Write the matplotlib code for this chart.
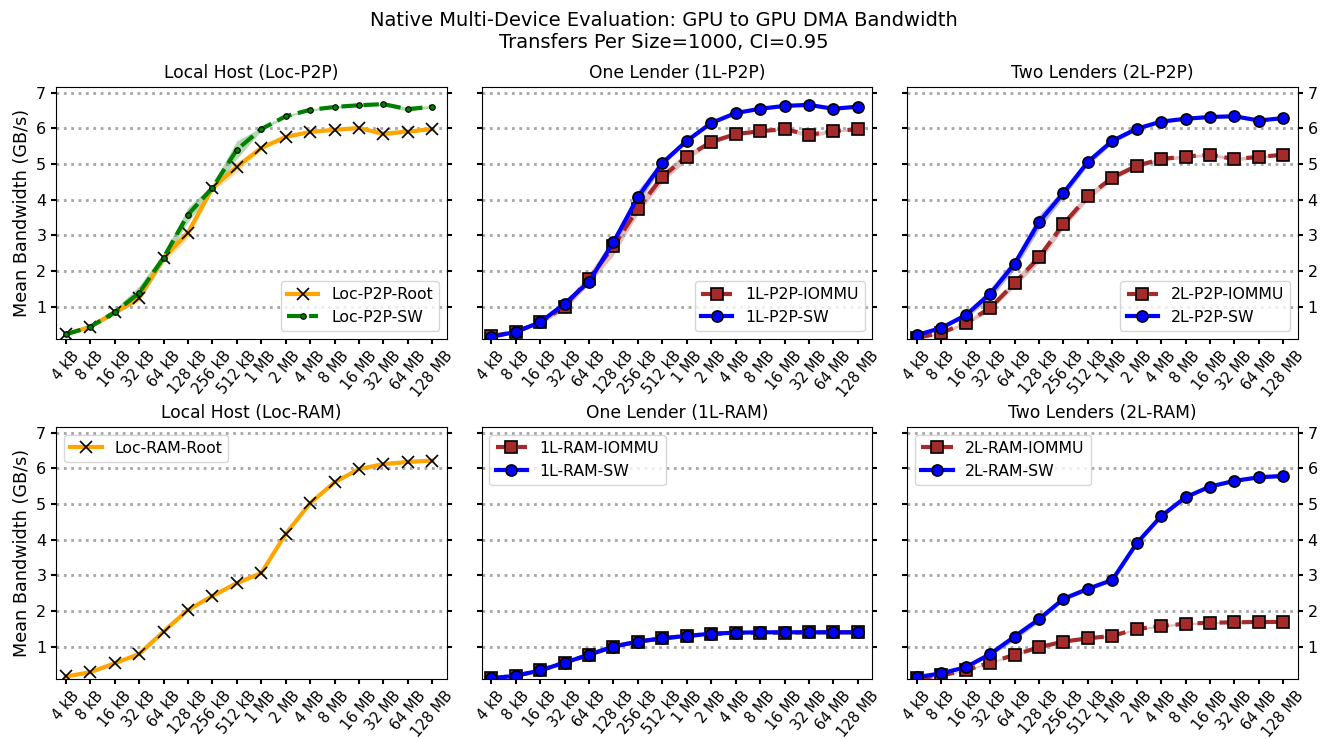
import matplotlib.pyplot as plt
import numpy as np

sizes = ['4 kB', '8 kB', '16 kB', '32 kB', '64 kB', '128 kB', '256 kB', '512 kB',
         '1 MB', '2 MB', '4 MB', '8 MB', '16 MB', '32 MB', '64 MB', '128 MB']

# mean bandwidth (GB/s) and CI half widths per transfer size
loc_p2p_root = [0.22, 0.43, 0.84, 1.24, 2.37, 3.07, 4.33, 4.92, 5.45, 5.76, 5.90, 5.96, 6.01, 5.85, 5.91, 5.98]
loc_p2p_root_ci = [0.02, 0.02, 0.05, 0.10, 0.15, 0.15, 0.10, 0.15, 0.05, 0.03, 0.03, 0.03, 0.03, 0.08, 0.03, 0.03]
loc_p2p_sw = [0.22, 0.43, 0.84, 1.38, 2.37, 3.58, 4.33, 5.40, 5.98, 6.34, 6.52, 6.60, 6.65, 6.68, 6.54, 6.61]
loc_p2p_sw_ci = [0.02, 0.03, 0.08, 0.20, 0.12, 0.20, 0.10, 0.25, 0.05, 0.03, 0.03, 0.03, 0.03, 0.03, 0.06, 0.03]

l1_p2p_iommu = [0.17, 0.29, 0.56, 1.00, 1.78, 2.69, 3.75, 4.64, 5.21, 5.62, 5.84, 5.92, 5.98, 5.82, 5.92, 5.98]
l1_p2p_iommu_ci = [0.02, 0.03, 0.05, 0.10, 0.15, 0.25, 0.15, 0.15, 0.10, 0.05, 0.05, 0.03, 0.03, 0.08, 0.03, 0.03]
l1_p2p_sw = [0.15, 0.29, 0.56, 1.08, 1.70, 2.81, 4.07, 5.03, 5.65, 6.15, 6.43, 6.55, 6.63, 6.66, 6.55, 6.61]
l1_p2p_sw_ci = [0.02, 0.02, 0.03, 0.05, 0.05, 0.10, 0.20, 0.08, 0.05, 0.03, 0.03, 0.03, 0.03, 0.03, 0.03, 0.03]

l2_p2p_iommu = [0.12, 0.26, 0.54, 0.96, 1.66, 2.38, 3.32, 4.09, 4.62, 4.95, 5.14, 5.21, 5.26, 5.14, 5.20, 5.26]
l2_p2p_iommu_ci = [0.02, 0.03, 0.05, 0.08, 0.10, 0.15, 0.12, 0.10, 0.08, 0.05, 0.05, 0.05, 0.03, 0.06, 0.03, 0.03]
l2_p2p_sw = [0.20, 0.40, 0.76, 1.36, 2.20, 3.37, 4.19, 5.06, 5.65, 5.99, 6.19, 6.27, 6.32, 6.34, 6.22, 6.29]
l2_p2p_sw_ci = [0.02, 0.03, 0.08, 0.15, 0.15, 0.20, 0.12, 0.10, 0.07, 0.05, 0.03, 0.03, 0.03, 0.03, 0.03, 0.03]

loc_ram_root = [0.16, 0.28, 0.53, 0.79, 1.42, 2.03, 2.42, 2.78, 3.06, 4.16, 5.02, 5.61, 5.98, 6.12, 6.18, 6.22]
loc_ram_root_ci = [0.02, 0.02, 0.03, 0.05, 0.05, 0.05, 0.05, 0.05, 0.03, 0.03, 0.03, 0.03, 0.03, 0.03, 0.03, 0.05]

l1_ram_iommu = [0.11, 0.18, 0.33, 0.55, 0.77, 1.00, 1.14, 1.23, 1.30, 1.35, 1.38, 1.39, 1.39, 1.40, 1.40, 1.40]
l1_ram_iommu_ci = [0.01] * 16
l1_ram_sw = [0.11, 0.18, 0.33, 0.55, 0.77, 1.00, 1.14, 1.23, 1.30, 1.36, 1.39, 1.40, 1.40, 1.40, 1.40, 1.40]
l1_ram_sw_ci = [0.01] * 16

l2_ram_iommu = [0.11, 0.19, 0.33, 0.55, 0.77, 0.98, 1.14, 1.23, 1.30, 1.49, 1.58, 1.64, 1.67, 1.68, 1.69, 1.69]
l2_ram_iommu_ci = [0.01, 0.01, 0.02, 0.02, 0.03, 0.03, 0.03, 0.03, 0.03, 0.03, 0.03, 0.03, 0.03, 0.03, 0.03, 0.03]
l2_ram_sw = [0.14, 0.25, 0.42, 0.79, 1.28, 1.77, 2.34, 2.62, 2.87, 3.90, 4.66, 5.19, 5.49, 5.65, 5.75, 5.79]
l2_ram_sw_ci = [0.02, 0.02, 0.03, 0.05, 0.10, 0.08, 0.06, 0.05, 0.04, 0.03, 0.03, 0.03, 0.03, 0.03, 0.04, 0.05]

styles = {
    'root': dict(color='orange', ls='-', marker='x', ms=8, mec='black', mew=1.2, lw=3),
    'sw_green': dict(color='green', ls='--', marker='o', ms=4, mec='black', mew=0.8, lw=3),
    'iommu': dict(color='brown', ls='--', marker='s', ms=8, mec='black', mew=1.2, lw=3),
    'sw': dict(color='blue', ls='-', marker='o', ms=8, mec='black', mew=1.2, lw=3),
}

panels = [
    ('Local Host (Loc-P2P)', [('Loc-P2P-Root', loc_p2p_root, loc_p2p_root_ci, 'root'),
                              ('Loc-P2P-SW', loc_p2p_sw, loc_p2p_sw_ci, 'sw_green')], 'lower right'),
    ('One Lender (1L-P2P)', [('1L-P2P-IOMMU', l1_p2p_iommu, l1_p2p_iommu_ci, 'iommu'),
                             ('1L-P2P-SW', l1_p2p_sw, l1_p2p_sw_ci, 'sw')], 'lower right'),
    ('Two Lenders (2L-P2P)', [('2L-P2P-IOMMU', l2_p2p_iommu, l2_p2p_iommu_ci, 'iommu'),
                              ('2L-P2P-SW', l2_p2p_sw, l2_p2p_sw_ci, 'sw')], 'lower right'),
    ('Local Host (Loc-RAM)', [('Loc-RAM-Root', loc_ram_root, loc_ram_root_ci, 'root')], 'upper left'),
    ('One Lender (1L-RAM)', [('1L-RAM-IOMMU', l1_ram_iommu, l1_ram_iommu_ci, 'iommu'),
                             ('1L-RAM-SW', l1_ram_sw, l1_ram_sw_ci, 'sw')], 'upper left'),
    ('Two Lenders (2L-RAM)', [('2L-RAM-IOMMU', l2_ram_iommu, l2_ram_iommu_ci, 'iommu'),
                              ('2L-RAM-SW', l2_ram_sw, l2_ram_sw_ci, 'sw')], 'upper left'),
]

fig, axes = plt.subplots(2, 3, figsize=(13.28, 7.39), dpi=100)
fig.subplots_adjust(left=0.0422, right=0.9774, top=0.8827, bottom=0.0812,
                    wspace=0.0887, hspace=0.3476)

x = np.arange(len(sizes))
for i, (ax, (title, series, loc)) in enumerate(zip(axes.flat, panels)):
    for label, mean, ci, key in series:
        st = styles[key]
        mean = np.array(mean)
        ci = np.array(ci)
        ax.fill_between(x, mean - ci, mean + ci, color=st['color'], alpha=0.3, lw=0)
        ax.plot(x, mean, label=label, **st)
    ax.set_title(title, fontsize=12.3)
    ax.set_xlim(-0.4, 15.6)
    ax.set_ylim(0.09, 7.17)
    ax.set_yticks(range(1, 8))
    ax.set_xticks(x)
    ax.set_xticklabels(sizes, rotation=50, fontsize=10.5)
    ax.yaxis.grid(True, ls=':', color='gray', alpha=0.7, lw=2)
    ax.tick_params(axis='y', left=True, right=True, labelsize=11.5, width=1.5)
    ax.tick_params(axis='x', width=1.5, pad=3.5)
    col = i % 3
    if col == 0:
        ax.set_ylabel('Mean Bandwidth (GB/s)', fontsize=12.7)
    elif col == 1:
        ax.tick_params(axis='y', labelleft=False)
    else:
        ax.tick_params(axis='y', labelleft=False, labelright=True)
    ax.legend(loc=loc, fontsize=11.3)

fig.suptitle('Native Multi-Device Evaluation: GPU to GPU DMA Bandwidth\nTransfers Per Size=1000, CI=0.95',
             fontsize=14, y=0.985)

plt.savefig('out.png')
